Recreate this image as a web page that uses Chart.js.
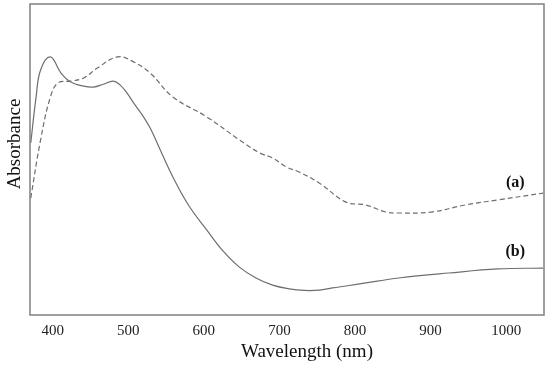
<!DOCTYPE html>
<html>
<head>
<meta charset="utf-8">
<script src="https://cdn.jsdelivr.net/npm/chart.js@4/dist/chart.umd.min.js"></script>
<style>
html,body{margin:0;padding:0;background:#fff;}
#wrap{width:550px;height:366px;position:relative;}
</style>
</head>
<body>
<div id="wrap"><canvas id="c" width="550" height="366"></canvas></div>
<script>
// Wavelength (nm) and absorbance (arbitrary units)
const wavelengthB = [371, 378, 384, 397, 411, 424, 441, 454, 467, 480, 489, 498, 507, 518, 529, 544, 559, 580, 604, 625, 647, 669, 691, 713, 733, 753, 770, 790, 814, 858, 924, 989, 1049];
const seriesB     = [0.553, 0.700, 0.788, 0.830, 0.778, 0.749, 0.736, 0.733, 0.742, 0.752, 0.740, 0.715, 0.682, 0.645, 0.601, 0.522, 0.444, 0.352, 0.273, 0.207, 0.154, 0.119, 0.096, 0.084, 0.079, 0.080, 0.087, 0.094, 0.103, 0.119, 0.135, 0.148, 0.151];
const wavelengthA = [371, 384, 397, 407, 424, 441, 459, 486, 507, 529, 559, 604, 647, 674, 691, 709, 726, 753, 788, 814, 841, 858, 901, 946, 989, 1049];
const seriesA     = [0.376, 0.563, 0.701, 0.746, 0.752, 0.762, 0.794, 0.830, 0.814, 0.778, 0.701, 0.637, 0.563, 0.521, 0.505, 0.476, 0.460, 0.424, 0.363, 0.354, 0.331, 0.328, 0.331, 0.354, 0.370, 0.392];
const xTicks = [400, 500, 600, 700, 800, 900, 1000];
const seriesLabels = ['(a)', '(b)'];
const xTitle = 'Wavelength (nm)';
const yTitle = 'Absorbance';

const toPts = (xs, ys) => xs.map((x, i) => ({x: x, y: ys[i]}));

const decor = {
  id: 'decor',
  afterDraw(chart) {
    const ctx = chart.ctx, a = chart.chartArea;
    const xs = chart.scales.x, ys = chart.scales.y;
    ctx.save();
    ctx.strokeStyle = '#808080';
    ctx.lineWidth = 1.5;
    ctx.strokeRect(a.left, a.top, a.right - a.left, a.bottom - a.top);
    ctx.fillStyle = '#111';
    ctx.textAlign = 'center';
    ctx.textBaseline = 'middle';
    ctx.font = 'bold 16px "Liberation Serif", serif';
    ctx.fillText(seriesLabels[0], xs.getPixelForValue(1012), ys.getPixelForValue(0.425));
    ctx.fillText(seriesLabels[1], xs.getPixelForValue(1012), ys.getPixelForValue(0.203));
    ctx.font = '19px "Liberation Serif", serif';
    ctx.fillText(xTitle, 307, 352);
    ctx.save();
    ctx.translate(15, 144);
    ctx.rotate(-Math.PI / 2);
    ctx.fillText(yTitle, 0, 0);
    ctx.restore();
    ctx.restore();
  }
};

new Chart(document.getElementById('c'), {
  type: 'line',
  data: {
    datasets: [
      {label: '(a)', data: toPts(wavelengthA, seriesA), borderColor: '#6e6e6e', borderWidth: 1.2, borderDash: [5, 3], pointRadius: 0, fill: false, tension: 0.4},
      {label: '(b)', data: toPts(wavelengthB, seriesB), borderColor: '#6e6e6e', borderWidth: 1.2, pointRadius: 0, fill: false, tension: 0.4}
    ]
  },
  options: {
    responsive: false,
    animation: false,
    layout: {padding: {left: 30, top: 4, right: 6, bottom: 0}},
    plugins: {legend: {display: false}, tooltip: {enabled: false}},
    scales: {
      x: {
        type: 'linear', min: 370, max: 1050,
        afterBuildTicks(s) { s.ticks = xTicks.map(v => ({value: v})); },
        afterFit(s) { s.height = 51; },
        grid: {display: false, drawTicks: false},
        border: {display: false},
        ticks: {color: '#222', padding: 7, font: {family: '"Liberation Serif", serif', size: 15}, maxRotation: 0, autoSkip: false, callback: v => String(v)}
      },
      y: {
        type: 'linear', min: 0, max: 1, display: false
      }
    }
  },
  plugins: [decor]
});
</script>
</body>
</html>
